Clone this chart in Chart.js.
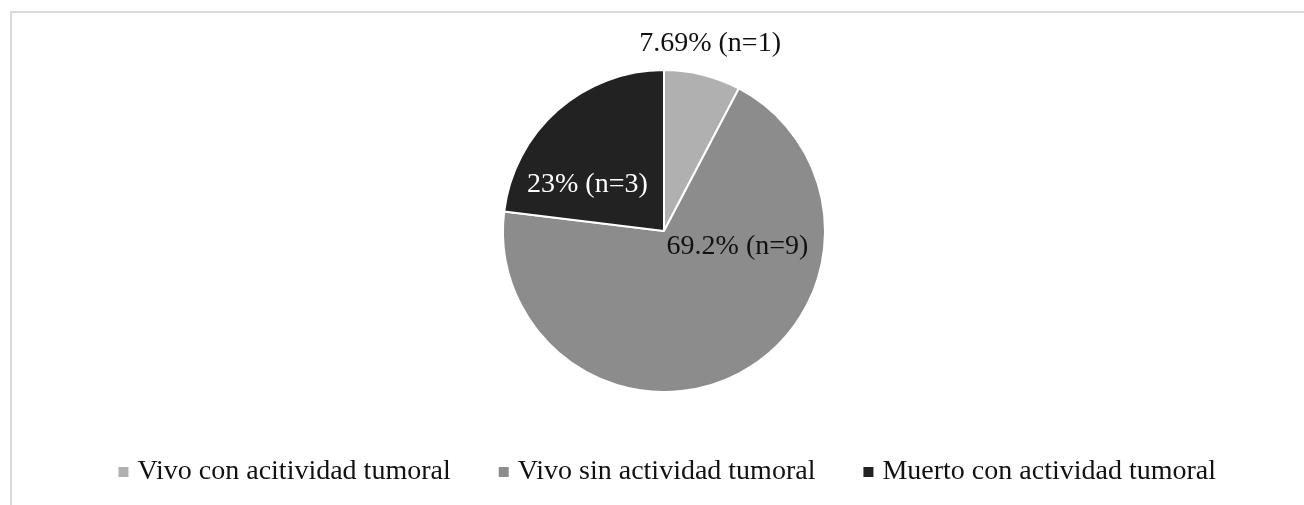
<!DOCTYPE html>
<html>
<head>
<meta charset="utf-8">
<script src="https://cdn.jsdelivr.net/npm/chart.js@4/dist/chart.umd.min.js"></script>
<style>
  html, body { margin: 0; padding: 0; background: #fff; overflow: hidden; }
  #frame { position: absolute; left: 10px; top: 11px; width: 1400px; height: 600px;
           border: 2px solid #d9d9d9; box-sizing: border-box; }
  #wrap { position: absolute; left: 0; top: 0; width: 1304px; height: 505px; }
</style>
</head>
<body>
<div id="frame"></div>
<div id="wrap"><canvas id="c" width="1304" height="505"></canvas></div>
<script>
// ---- data ----
const categories = ["Vivo con acitividad tumoral", "Vivo sin actividad tumoral", "Muerto con actividad tumoral"];
const counts = [1, 9, 3];
const pctLabels = ["7.69%", "69.2%", "23%"];
const sliceColors = ["#b0b0b0", "#8c8c8c", "#222222"];
const labelColors = ["#111111", "#111111", "#ffffff"];
// label placement inside each slice: fraction of angular span, fraction of radius
const labelAngleFrac = [0.50, 0.299, 0.29];
const labelRadiusFrac = [1.196, 0.467, 0.555];

const FONT = "'Liberation Serif', 'Times New Roman', serif";

const dataLabels = {
  id: 'dataLabels',
  afterDatasetsDraw(chart) {
    const ctx = chart.ctx;
    const meta = chart.getDatasetMeta(0);
    ctx.save();
    ctx.font = "28px " + FONT;
    ctx.textAlign = 'center';
    ctx.textBaseline = 'middle';
    meta.data.forEach((arc, i) => {
      const p = arc.getProps(['x', 'y', 'startAngle', 'endAngle', 'outerRadius'], true);
      const a = p.startAngle + (p.endAngle - p.startAngle) * labelAngleFrac[i];
      const r = p.outerRadius * labelRadiusFrac[i];
      ctx.fillStyle = labelColors[i];
      ctx.fillText(pctLabels[i] + " (n=" + counts[i] + ")", p.x + Math.cos(a) * r, p.y + Math.sin(a) * r);
    });
    ctx.restore();
  }
};

new Chart(document.getElementById('c'), {
  type: 'pie',
  data: {
    labels: categories,
    datasets: [{
      data: counts,
      backgroundColor: sliceColors,
      borderColor: '#ffffff',
      borderWidth: 2,
      radius: 161
    }]
  },
  options: {
    responsive: false,
    animation: false,
    layout: { padding: { top: 57, bottom: 9, left: 59, right: 35 } },
    plugins: {
      tooltip: { enabled: false },
      legend: {
        position: 'bottom',
        align: 'end',
        labels: {
          font: { family: FONT, size: 28 },
          color: '#111111',
          usePointStyle: true,
          boxWidth: 0.01,
          boxHeight: 10,
          padding: 53,
          generateLabels: () => categories.map((t, i) => ({
            text: t,
            fillStyle: sliceColors[i],
            strokeStyle: sliceColors[i],
            lineWidth: 0,
            fontColor: '#111111',
            pointStyle: 'rect',
            rotation: 0,
            hidden: false,
            index: i
          }))
        }
      }
    }
  },
  plugins: [dataLabels]
});
</script>
</body>
</html>
